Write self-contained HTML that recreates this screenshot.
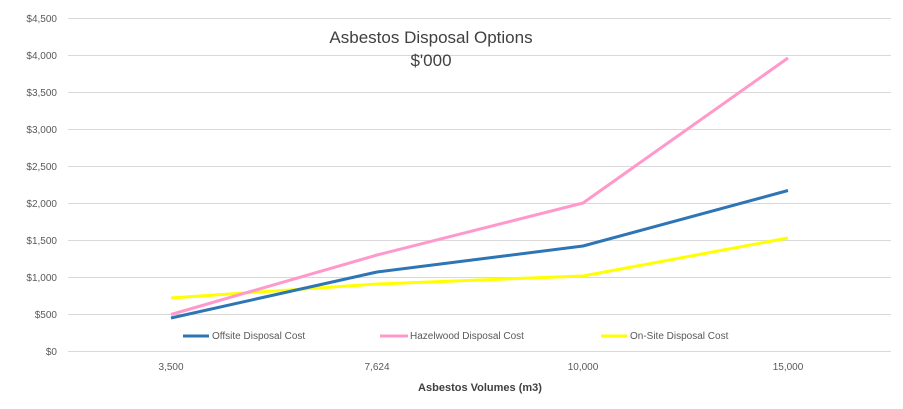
<!DOCTYPE html>
<html><head><style>body{margin:0;background:#fff}svg{display:block}</style></head><body>
<svg width="903" height="409" viewBox="0 0 903 409" xmlns="http://www.w3.org/2000/svg" font-family="'Liberation Sans',sans-serif">
<g stroke="#d9d9d9" stroke-width="1">
<line x1="68" x2="891" y1="18.5" y2="18.5"/><line x1="68" x2="891" y1="55.5" y2="55.5"/><line x1="68" x2="891" y1="92.5" y2="92.5"/><line x1="68" x2="891" y1="129.5" y2="129.5"/><line x1="68" x2="891" y1="166.5" y2="166.5"/><line x1="68" x2="891" y1="203.5" y2="203.5"/><line x1="68" x2="891" y1="240.5" y2="240.5"/><line x1="68" x2="891" y1="277.5" y2="277.5"/><line x1="68" x2="891" y1="314.5" y2="314.5"/><line x1="68" x2="891" y1="351.5" y2="351.5"/>
</g>
<g font-size="10" fill="#595959" text-anchor="end">
<text x="57" y="22">$4,500</text><text x="57" y="59">$4,000</text><text x="57" y="96">$3,500</text><text x="57" y="133">$3,000</text><text x="57" y="170">$2,500</text><text x="57" y="207">$2,000</text><text x="57" y="244">$1,500</text><text x="57" y="281">$1,000</text><text x="57" y="318">$500</text><text x="57" y="355">$0</text>
</g>
<g font-size="10" fill="#595959" text-anchor="middle">
<text x="171" y="370">3,500</text><text x="377" y="370">7,624</text><text x="583" y="370">10,000</text><text x="788" y="370">15,000</text>
</g>
<text x="480" y="391" font-size="11" font-weight="bold" fill="#404040" text-anchor="middle">Asbestos Volumes (m3)</text>
<text x="431" y="43" font-size="17" fill="#404040" text-anchor="middle">Asbestos Disposal Options</text>
<text x="431" y="66" font-size="17" fill="#404040" text-anchor="middle">$'000</text>
<g fill="none" stroke-width="3" stroke-linejoin="round">
<polyline stroke="#ffff00" points="171,298 377,284 583,276 788,238"/>
<polyline stroke="#ff99cc" points="171,314.5 377,255 583,203 788,58"/>
<polyline stroke="#2e75b6" points="171,318 377,272 583,246 788,190.5"/>
</g>
<g stroke-width="3">
<line x1="183" x2="209" y1="336" y2="336" stroke="#2e75b6"/>
<line x1="380" x2="408" y1="336" y2="336" stroke="#ff99cc"/>
<line x1="601" x2="627" y1="336" y2="336" stroke="#ffff00"/>
</g>
<g font-size="10" fill="#595959">
<text x="212" y="339">Offsite Disposal Cost</text>
<text x="410" y="339">Hazelwood Disposal Cost</text>
<text x="630" y="339">On-Site Disposal Cost</text>
</g>
</svg>
</body></html>
